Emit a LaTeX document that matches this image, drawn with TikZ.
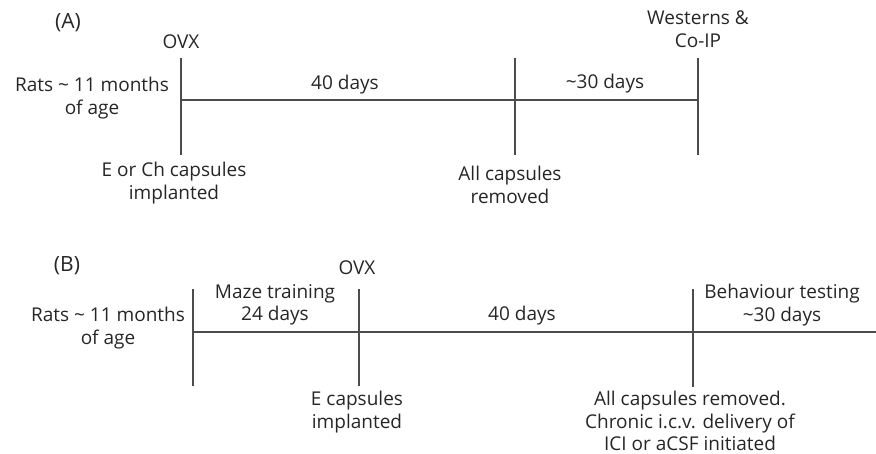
\documentclass[tikz,border=0pt]{standalone}
\usepackage{fontspec}
\setmainfont{Open Sans}
\begin{document}
\begin{tikzpicture}[x=1pt,y=-1pt,
  lbl/.style={inner sep=0pt,align=center,font=\fontsize{19}{22.5}\selectfont,text=black!85},
  panel/.style={lbl,font=\fontsize{21}{24}\selectfont},
  tl/.style={draw=black!70,line width=1.2pt}]
\useasboundingbox (0,0) rectangle (876,454);
% Panel A
\node[panel] (A) at (68,23) {(A)};
\node[lbl] (ovxA) at (181,42) {OVX};
\node[lbl] (ratsA) at (92,98) {Rats \textasciitilde{} 11 months\\of age};
\node[lbl] (d40A) at (345,85) {40 days};
\node[lbl] (d30A) at (605,84) {\textasciitilde30 days};
\node[lbl] (west) at (698,29) {Westerns \&\\Co-IP};
\node[lbl] (capA) at (174,183) {E or Ch capsules\\implanted};
\node[lbl] (remA) at (510,185) {All capsules\\removed};
\coordinate (a1t) at (181,58); \coordinate (a1b) at (181,155);
\coordinate (a2t) at (515,58); \coordinate (a2b) at (515,155);
\coordinate (a3t) at (698,58); \coordinate (a3b) at (698,155);
\coordinate (aL) at (181,100); \coordinate (aR) at (698,100);
\draw[tl] (a1t) -- (a1b);
\draw[tl] (a2t) -- (a2b);
\draw[tl] (a3t) -- (a3b);
\draw[tl] (aL) -- (aR);
% Panel B
\node[panel] (B) at (67,266) {(B)};
\node[lbl] (ovxB) at (357,268) {OVX};
\node[lbl] (ratsB) at (108,328) {Rats \textasciitilde{} 11 months\\of age};
\node[lbl] (maze) at (275,305) {Maze training\\24 days};
\node[lbl] (d40B) at (522,316) {40 days};
\node[lbl] (beh) at (782,305) {Behaviour testing\\\textasciitilde30 days};
\node[lbl] (capB) at (357,412) {E capsules\\implanted};
\node[lbl] (remB) at (690,421) {All capsules removed.\\Chronic i.c.v. delivery of\\ICI or aCSF initiated};
\coordinate (b1t) at (193,289); \coordinate (b1b) at (193,386);
\coordinate (b2t) at (359,289); \coordinate (b2b) at (359,386);
\coordinate (b3t) at (693,289); \coordinate (b3b) at (693,387);
\coordinate (bL) at (193,332); \coordinate (bR) at (876,332);
\draw[tl] (b1t) -- (b1b);
\draw[tl] (b2t) -- (b2b);
\draw[tl] (b3t) -- (b3b);
\draw[tl] (bL) -- (bR);
\end{tikzpicture}
\end{document}
